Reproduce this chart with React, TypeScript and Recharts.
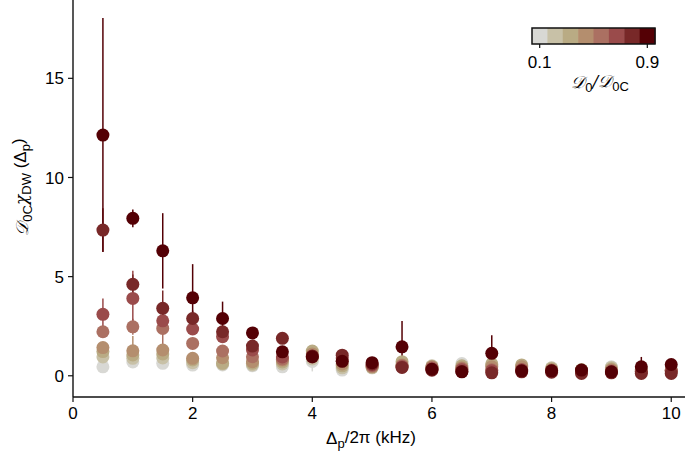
import React from "react";
import { ScatterChart, Scatter, XAxis, YAxis, ErrorBar } from "recharts";

const FONT = "'Liberation Sans', Arial, sans-serif";

// detuning Δp/2π in kHz
const X_VALUES = [0.5, 1, 1.5, 2, 2.5, 3, 3.5, 4, 4.5, 5, 5.5, 6, 6.5, 7, 7.5, 8, 8.5, 9, 9.5, 10];
const X_TICKS = [0, 2, 4, 6, 8, 10];
const Y_TICKS = [0, 5, 10, 15];

// D0/D0C levels (colour bar), light -> dark
const COLORS = ["#d8d8d4", "#c8c1a7", "#b9ab84", "#b48e6e", "#ab7062", "#9a4b4b", "#782828", "#540005"];
const BAR_TICKS = ["0.1", "0.9"];

const S1 = [0.45, 0.7, 0.63, 0.54, 0.55, 0.5, 0.45, 0.72, 0.29, 0.42, 0.5, 0.45, 0.62, 0.5, 0.45, 0.35, 0.3, 0.45, 0.3, 0.3];
const S2 = [0.95, 0.88, 0.9, 0.66, 0.6, 0.55, 0.6, 0.85, 0.4, 0.4, 0.55, 0.5, 0.45, 0.55, 0.5, 0.4, 0.3, 0.42, 0.3, 0.3];
const S3 = [1.22, 1.05, 1.1, 0.8, 0.63, 0.63, 0.7, 1.25, 0.5, 0.45, 0.71, 0.45, 0.5, 0.6, 0.55, 0.35, 0.3, 0.35, 0.3, 0.3];
const S4 = [1.42, 1.26, 1.3, 0.88, 0.91, 0.71, 0.79, 1.1, 0.6, 0.45, 0.55, 0.45, 0.4, 0.45, 0.45, 0.3, 0.28, 0.3, 0.25, 0.25];
const S5 = [2.22, 2.47, 2.39, 1.63, 1.25, 0.96, 0.85, 1.0, 0.75, 0.5, 0.5, 0.4, 0.35, 0.3, 0.3, 0.28, 0.25, 0.25, 0.22, 0.25];
const S6 = [3.1, 3.9, 2.77, 2.36, 1.97, 1.3, 0.95, 0.95, 0.9, 0.55, 0.45, 0.35, 0.3, 0.25, 0.3, 0.25, 0.2, 0.2, 0.2, 0.25];
const S7 = [7.35, 4.61, 3.4, 2.89, 2.22, 1.5, 1.89, 1.0, 1.04, 0.6, 0.42, 0.28, 0.22, 0.15, 0.2, 0.18, 0.12, 0.15, 0.12, 0.12];
const S8 = [12.14, 7.94, 6.3, 3.93, 2.89, 2.16, 1.21, 0.96, 0.73, 0.66, 1.46, 0.33, 0.2, 1.13, 0.25, 0.25, 0.29, 0.2, 0.45, 0.57];

const E1 = [0.2, 0.25, 0.2, 0.15, 0.15, 0.15, 0.3, 0.5, 0.15, 0.15, 0.15, 0.15, 0.15, 0.15, 0.15, 0.15, 0.15, 0.15, 0.15, 0.15];
const E2 = [0.2, 0.2, 0.2, 0.15, 0.15, 0.15, 0.15, 0.2, 0.15, 0.15, 0.15, 0.15, 0.15, 0.15, 0.15, 0.15, 0.15, 0.15, 0.15, 0.15];
const E3 = [0.2, 0.2, 0.2, 0.15, 0.15, 0.15, 0.15, 0.2, 0.15, 0.15, 0.15, 0.15, 0.15, 0.15, 0.15, 0.15, 0.15, 0.15, 0.15, 0.15];
const E4 = [0.2, 0.75, 0.3, 0.2, 0.15, 0.15, 0.15, 0.2, 0.15, 0.15, 0.15, 0.15, 0.15, 0.15, 0.15, 0.15, 0.15, 0.15, 0.15, 0.15];
const E5 = [0.3, 0.4, 1.2, 0.3, 0.2, 0.15, 0.15, 0.2, 0.15, 0.15, 0.15, 0.15, 0.15, 0.15, 0.15, 0.15, 0.15, 0.15, 0.15, 0.15];
const E6 = [0.8, 1.4, 0.4, 0.3, 0.2, 0.2, 0.15, 0.2, 0.15, 0.15, 0.15, 0.15, 0.15, 0.15, 0.15, 0.15, 0.15, 0.15, 0.15, 0.15];
const E7 = [1.1, 0.5, 0.9, 0.4, 0.3, 0.2, 0.2, 0.2, 0.15, 0.15, 0.15, 0.15, 0.15, 0.15, 0.15, 0.15, 0.15, 0.15, 0.15, 0.15];
const E8 = [5.9, 0.45, 1.9, 1.7, 0.85, 0.25, 0.2, 0.2, 0.2, 0.2, 1.3, 0.2, 0.2, 0.92, 0.2, 0.2, 0.2, 0.2, 0.5, 0.2];

const SERIES = [S1, S2, S3, S4, S5, S6, S7, S8];
const ERRORS = [E1, E2, E3, E4, E5, E6, E7, E8];

const XLabel = () => (
  <text x={371} y={444} textAnchor="middle" fontFamily={FONT} fontSize={17} fill="#000">
    Δ<tspan dy="0.3em" fontSize={13}>p</tspan>
    <tspan dy="-0.3em">/2π (kHz)</tspan>
  </text>
);

const YLabel = () => (
  <text
    transform="translate(28,187) rotate(-90)"
    textAnchor="middle"
    fontFamily={FONT}
    fontSize={17}
    fill="#000"
  >
    <tspan fontStyle="italic" fontFamily="'DejaVu Serif', serif">𝒟</tspan>
    <tspan dy="0.3em" fontSize={13}>0C</tspan>
    <tspan dy="-0.3em" fontFamily="'DejaVu Serif', serif" fontStyle="italic">χ</tspan>
    <tspan dy="0.3em" fontSize={13}>DW</tspan>
    <tspan dy="-0.3em"> (Δ</tspan>
    <tspan dy="0.3em" fontSize={13}>p</tspan>
    <tspan dy="-0.3em">)</tspan>
  </text>
);

function ColorBar() {
  const x0 = 532;
  const y0 = 28;
  const w = 123;
  const h = 16;
  const seg = w / COLORS.length;
  return (
    <svg width={685} height={460} style={{ position: "absolute", left: 0, top: 0, pointerEvents: "none" }}>
      {COLORS.map((c, i) => (
        <rect key={i} x={x0 + i * seg} y={y0} width={seg + 0.5} height={h} fill={c} />
      ))}
      <rect x={x0} y={y0} width={w} height={h} fill="none" stroke="#111" strokeWidth={1.5} />
      {BAR_TICKS.map((t, i) => {
        const cx = i === 0 ? x0 + seg / 2 : x0 + w - seg / 2;
        return (
          <g key={t}>
            <line x1={cx} x2={cx} y1={y0 + h} y2={y0 + h + 4} stroke="#111" strokeWidth={1.2} />
            <text x={cx} y={68} textAnchor="middle" fontFamily={FONT} fontSize={17} fill="#000">
              {t}
            </text>
          </g>
        );
      })}
      <text x={600} y={88} textAnchor="middle" fontFamily={FONT} fontSize={17} fill="#000">
        <tspan fontStyle="italic" fontFamily="'DejaVu Serif', serif">𝒟</tspan>
        <tspan dy="0.3em" fontSize={13}>0</tspan>
        <tspan dy="-0.3em" fontStyle="italic" fontFamily="'DejaVu Serif', serif">/𝒟</tspan>
        <tspan dy="0.3em" fontSize={13}>0C</tspan>
      </text>
    </svg>
  );
}

export default function App() {
  return (
    <div style={{ position: "absolute", left: 0, top: 0, width: 685, height: 460, background: "#fff" }}>
      <ScatterChart width={685} height={460} margin={{ top: 0, right: 0, bottom: 0, left: 0 }}>
        <XAxis
          type="number"
          dataKey="x"
          domain={[0, 10.23]}
          ticks={X_TICKS}
          height={63}
          tickSize={5}
          tickMargin={5}
          allowDataOverflow
          axisLine={{ stroke: "#111", strokeWidth: 1.4 }}
          tickLine={{ stroke: "#111", strokeWidth: 1.2 }}
          tick={{ fill: "#000", fontSize: 17, fontFamily: FONT }}
          label={<XLabel />}
        />
        <YAxis
          type="number"
          dataKey="y"
          domain={[-1.07, 18.95]}
          ticks={Y_TICKS}
          width={73}
          tickSize={5}
          tickMargin={4}
          allowDataOverflow
          axisLine={{ stroke: "#111", strokeWidth: 1.4 }}
          tickLine={{ stroke: "#111", strokeWidth: 1.2 }}
          tick={{ fill: "#000", fontSize: 17, fontFamily: FONT }}
          label={<YLabel />}
        />
        {SERIES.map((s, k) => {
          const color = COLORS[k];
          const data = X_VALUES.map((x, i) => ({ x, y: s[i], err: ERRORS[k][i] }));
          return (
            <Scatter
              key={k}
              data={data}
              fill={color}
              isAnimationActive={false}
              shape={(p: any) => <circle cx={p.cx} cy={p.cy} r={6.5} fill={color} />}
            >
              <ErrorBar dataKey="err" direction="y" width={0} stroke={color} strokeWidth={1.5} />
            </Scatter>
          );
        })}
      </ScatterChart>
      <ColorBar />
    </div>
  );
}
